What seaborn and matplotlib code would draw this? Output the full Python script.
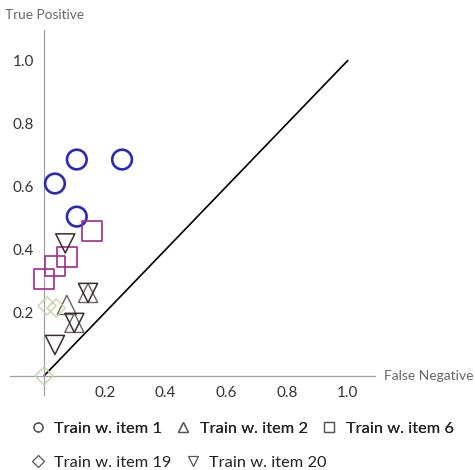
import numpy as np
import pandas as pd
import matplotlib
matplotlib.use('Agg')
import matplotlib.pyplot as plt
from matplotlib.lines import Line2D
from matplotlib.ticker import MultipleLocator
import seaborn as sns

# points (False Negative, True Positive)
item1_fn = [0.108, 0.257, 0.036, 0.108]
item1_tp = [0.686, 0.686, 0.610, 0.505]

item2_fn = [0.075, 0.100, 0.145]
item2_tp = [0.225, 0.168, 0.263]

item6_fn = [0.000, 0.036, 0.075, 0.158]
item6_tp = [0.307, 0.348, 0.377, 0.460]

item19_fn = [0.010, 0.040, 0.000]
item19_tp = [0.222, 0.215, 0.000]

item20_fn = [0.070, 0.145, 0.100, 0.036]
item20_tp = [0.420, 0.263, 0.168, 0.098]

labels = ['Train w. item 1', 'Train w. item 2', 'Train w. item 6',
          'Train w. item 19', 'Train w. item 20']
markers = ['o', '^', 's', 'D', 'v']
colors = ['#2a2ab5', '#6e5e5e', '#a02a8c', '#c2d6aa', '#3e2c2c']
sizes = [200, 190, 200, 85, 190]
widths = [1.9, 1.0, 1.2, 1.0, 1.1]

xs = [item1_fn, item2_fn, item6_fn, item19_fn, item20_fn]
ys = [item1_tp, item2_tp, item6_tp, item19_tp, item20_tp]

sns.set_style('white')
plt.rcParams['font.family'] = ['Lato', 'DejaVu Sans']

fig = plt.figure(figsize=(4.75, 4.7), dpi=100)
ax = fig.add_axes([0.021, 0.160, 0.768, 0.777])

# diagonal reference
ax.plot([0, 1], [0, 1], color='black', lw=1.2, zorder=1)

for i in range(len(labels)):
    df = pd.DataFrame({'fn': xs[i], 'tp': ys[i]})
    sns.scatterplot(data=df, x='fn', y='tp', marker=markers[i], s=sizes[i],
                    facecolor='none', edgecolor=colors[i], linewidth=widths[i],
                    ax=ax, zorder=3, legend=False)

ax.set_xlim(-0.112, 1.089)
ax.set_ylim(-0.06, 1.098)

# Mathematica-style axes crossing at origin
for side in ['top', 'right']:
    ax.spines[side].set_visible(False)
for side in ['left', 'bottom']:
    ax.spines[side].set_position(('data', 0))
    ax.spines[side].set_color('#a0a0a0')
    ax.spines[side].set_linewidth(0.9)

ticks = [0.2, 0.4, 0.6, 0.8, 1.0]
ax.set_xticks(ticks)
ax.set_yticks(ticks)
ax.set_xticklabels([f'{t:.1f}' for t in ticks])
ax.set_yticklabels([f'{t:.1f}' for t in ticks])
ax.xaxis.set_minor_locator(MultipleLocator(0.05))
ax.yaxis.set_minor_locator(MultipleLocator(0.05))
ax.tick_params(which='major', direction='out', length=4, width=0.8, color='#a0a0a0',
               labelsize=11, labelcolor='#333333', pad=3)
ax.tick_params(which='minor', direction='out', length=2, width=0.6, color='#b0b0b0')
ax.set_xlabel('')
ax.set_ylabel('')

fig.text(0.010, 0.968, 'True Positive', fontsize=9.8, color='#666666', ha='left', va='center')
fig.text(0.808, 0.200, 'False Negative', fontsize=10, color='#666666', ha='left', va='center')

def handle(i):
    return Line2D([], [], ls='none', marker=markers[i], markersize=6.5,
                  markerfacecolor='none', markeredgecolor='#555555', markeredgewidth=0.9)

leg1 = fig.legend([handle(i) for i in range(3)], labels[:3], loc='center left',
                  bbox_to_anchor=(0.035, 0.088), ncol=3, frameon=False, fontsize=11.8,
                  handlelength=0.8, handletextpad=0.6, columnspacing=0.9, labelcolor='#222222')
leg2 = fig.legend([handle(i) for i in range(3, 5)], labels[3:], loc='center left',
                  bbox_to_anchor=(0.035, 0.016), ncol=2, frameon=False, fontsize=11.8,
                  handlelength=0.8, handletextpad=0.6, columnspacing=0.9, labelcolor='#222222')
fig.add_artist(leg1)

fig.savefig('out.png', dpi=100)
